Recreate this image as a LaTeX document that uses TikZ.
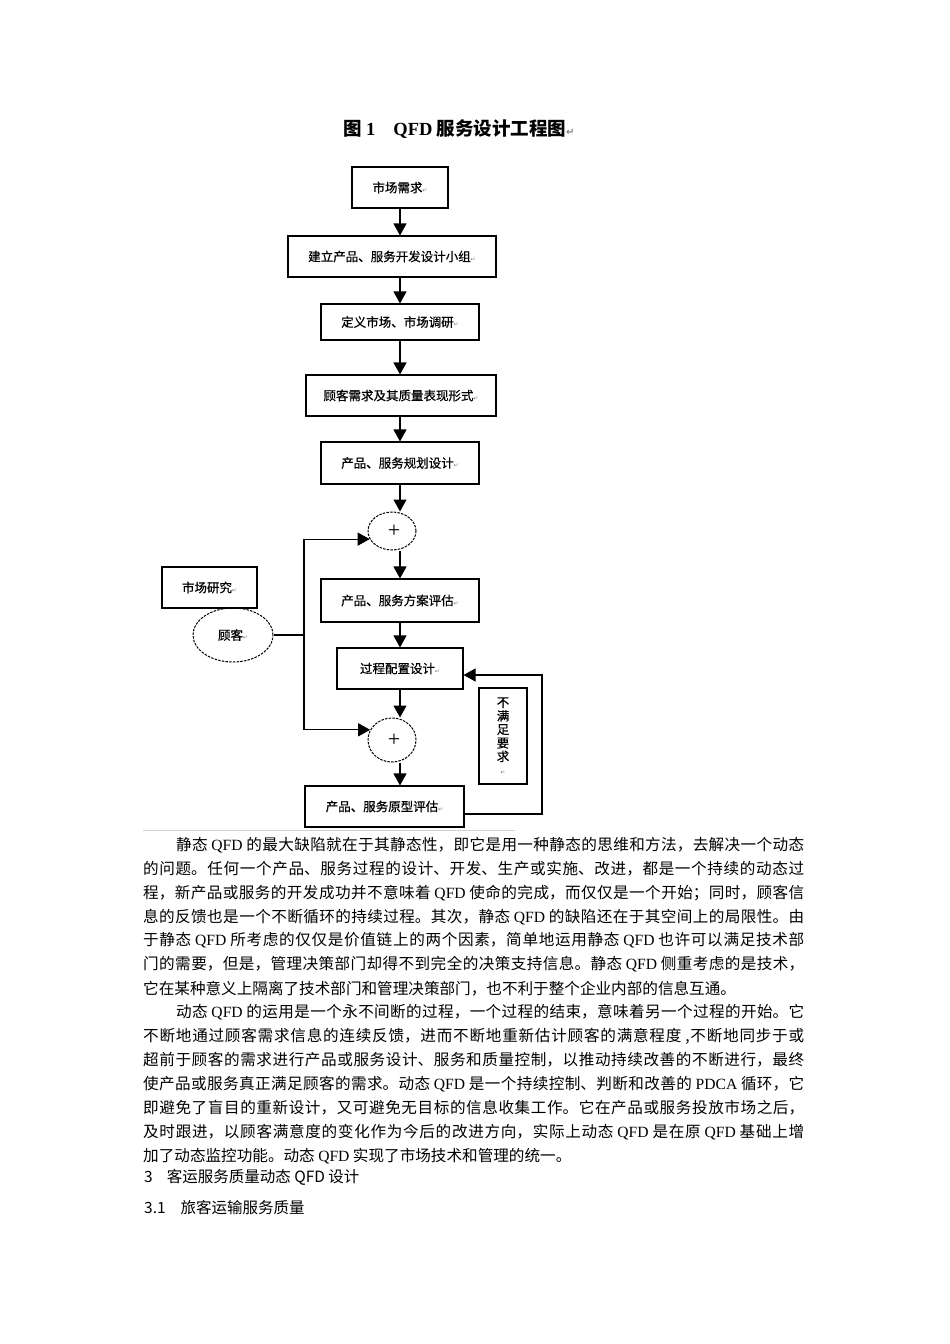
\documentclass[tikz,border=0pt]{standalone}
\usepackage{fontspec}
\usetikzlibrary{arrows.meta,shapes.geometric}
\newfontfamily\cjk{Noto Sans CJK SC}
\newfontfamily\cjkb[FakeBold=0.6]{Noto Sans CJK SC}
\newfontfamily\tm{Liberation Serif}
\newfontfamily\djv{DejaVu Sans}
\XeTeXlinebreaklocale "zh"
\XeTeXlinebreakskip=0pt plus 3pt minus 0.6pt
\tolerance=10000
\pretolerance=-1
\hbadness=10000
\hfuzz=20pt
\newcommand\pmk{{\color{gray}\djv\fontsize{6}{6}\selectfont ↵}}
\newcommand\tmk{{\color{gray}\djv\fontsize{10}{10}\selectfont ↵}}
\newcommand\qfd{{\tm QFD}}
\newcommand\pdca{{\tm PDCA}}
\newcommand\jtext[1]{\noindent\parfillskip=0pt\relax #1\par}
\tikzset{
  box/.style={draw, line width=1.1pt, inner sep=0pt, font=\cjkb\fontsize{12.5}{14}\selectfont},
  circ/.style={ellipse, draw, line width=1pt, dash pattern=on 2.5pt off 1.2pt, inner sep=0pt, font=\cjkb\fontsize{12.5}{14}\selectfont},
  arr/.style={line width=1.1pt, -{Triangle[length=12pt,width=13pt]}},
  ln/.style={line width=1.1pt},
  jline/.style={anchor=west, inner sep=0pt, text width=#1, align=justify, font=\cjk\fontsize{15.6}{18}\selectfont},
  pline/.style={anchor=west, inner sep=0pt, font=\cjk\fontsize{15.6}{18}\selectfont},
  hline/.style={anchor=west, inner sep=0pt, font=\cjk\fontsize{15.5}{18}\selectfont},
  plus/.style={inner sep=0pt, font=\tm\fontsize{22}{22}\selectfont},
}
\begin{document}
\begin{tikzpicture}[x=1pt,y=-1pt]
\useasboundingbox (0,0) rectangle (950,1344);
\fill[white] (0,0) rectangle (950,1344);

% title
\node[inner sep=0pt, font=\cjk\bfseries\fontsize{18.5}{19}\selectfont] (title) at (459,129)
  {图 {\tm\bfseries 1}\hspace{18pt}{\tm\bfseries QFD} 服务设计工程图\tmk};

% flow boxes
\node[box, minimum width=96pt, minimum height=41pt] (b1) at (400,187.5) {市场需求\pmk};
\node[box, minimum width=208pt, minimum height=41pt] (b2) at (392,256.5) {建立产品、服务开发设计小组\pmk};
\node[box, minimum width=158pt, minimum height=36pt] (b3) at (400,322) {定义市场、市场调研\pmk};
\node[box, minimum width=190pt, minimum height=41pt] (b4) at (401,395.5) {顾客需求及其质量表现形式\pmk};
\node[box, minimum width=158pt, minimum height=42pt] (b5) at (400,463) {产品、服务规划设计\pmk};
\node[circ, minimum width=48pt, minimum height=38pt] (c1) at (392,531) {};
\node[plus] (pl1) at (394,531) {+};
\node[box, minimum width=158pt, minimum height=43pt] (b6) at (400,600.5) {产品、服务方案评估\pmk};
\node[box, minimum width=126pt, minimum height=41pt] (b7) at (400,668.5) {过程配置设计\pmk};
\node[circ, minimum width=48pt, minimum height=44pt] (c2) at (392,740) {};
\node[plus] (pl2) at (394,740) {+};
\node[box, minimum width=159pt, minimum height=41pt] (b8) at (384.5,806.5) {产品、服务原型评估\pmk};

% left side
\node[box, minimum width=95pt, minimum height=41pt] (mr) at (209.5,587.5) {市场研究\pmk};
\node[circ, minimum width=80pt, minimum height=54pt] (gk) at (233,635) {顾客\pmk};

% feedback label
\node[box, minimum width=48pt, minimum height=96pt, align=center, font=\cjkb\fontsize{12.5}{13.5}\selectfont] (bm) at (503,736) {不\\满\\足\\要\\求\\\pmk};

% main arrows
\draw[arr] (b1.south) -- (b1.south |- b2.north);
\draw[arr] (b3.north |- b2.south) -- (b3.north);
\draw[arr] (b3.south) -- (b3.south |- b4.north);
\draw[arr] (b5.north |- b4.south) -- (b5.north);
\draw[arr] (b5.south) -- (b5.south |- c1.north);
\draw[arr] (b6.north |- c1.south) -- (b6.north);
\draw[arr] (b6.south) -- (b7.north);
\draw[arr] (b7.south) -- (b7.south |- c2.north);
\draw[arr] (b7.south |- c2.south) -- (b7.south |- b8.north);

% customer input
\coordinate (jm) at (304,635);
\draw[ln] (gk.east) -- (jm);
\draw[ln] (jm |- c1.200) -- (jm |- c2.155);
\draw[arr] (jm |- c1.200) -- (c1.200);
\draw[arr] (jm |- c2.155) -- (c2.155);

% feedback loop
\coordinate (fb) at ([yshift=-7.5pt]b8.east);
\coordinate (fr) at (542,675);
\draw[arr] (fb) -| (fr) -- (fr -| b7.east);

% separator
\draw[gray!35, line width=0.7pt] (143,830) -- (515,830);

% paragraph 1
\node[jline=628pt] (p1) at (176,845) {\jtext{静态 \qfd{} 的最大缺陷就在于其静态性，即它是用一种静态的思维和方法，去解决一个动态}};
\node[jline=661pt] (p2) at (143,868.9) {\jtext{的问题。任何一个产品、服务过程的设计、开发、生产或实施、改进，都是一个持续的动态过}};
\node[jline=661pt] (p3) at (143,892.8) {\jtext{程，新产品或服务的开发成功并不意味着 \qfd{} 使命的完成，而仅仅是一个开始；同时，顾客信}};
\node[jline=661pt] (p4) at (143,916.7) {\jtext{息的反馈也是一个不断循环的持续过程。其次，静态 \qfd{} 的缺陷还在于其空间上的局限性。由}};
\node[jline=661pt] (p5) at (143,940.6) {\jtext{于静态 \qfd{} 所考虑的仅仅是价值链上的两个因素，简单地运用静态 \qfd{} 也许可以满足技术部}};
\node[jline=661pt] (p6) at (143,964.5) {\jtext{门的需要，但是，管理决策部门却得不到完全的决策支持信息。静态 \qfd{} 侧重考虑的是技术，}};
\node[pline] (p7) at (143,988.4) {它在某种意义上隔离了技术部门和管理决策部门，也不利于整个企业内部的信息互通。};

% paragraph 2
\node[jline=628pt] (q1) at (176,1012.3) {\jtext{动态 \qfd{} 的运用是一个永不间断的过程，一个过程的结束，意味着另一个过程的开始。它}};
\node[jline=661pt] (q2) at (143,1036.2) {\jtext{不断地通过顾客需求信息的连续反馈，进而不断地重新估计顾客的满意程度 ,不断地同步于或}};
\node[jline=661pt] (q3) at (143,1060.1) {\jtext{超前于顾客的需求进行产品或服务设计、服务和质量控制，以推动持续改善的不断进行，最终}};
\node[jline=661pt] (q4) at (143,1084) {\jtext{使产品或服务真正满足顾客的需求。动态 \qfd{} 是一个持续控制、判断和改善的 \pdca{} 循环，它}};
\node[jline=661pt] (q5) at (143,1107.9) {\jtext{即避免了盲目的重新设计，又可避免无目标的信息收集工作。它在产品或服务投放市场之后，}};
\node[jline=661pt] (q6) at (143,1131.8) {\jtext{及时跟进，以顾客满意度的变化作为今后的改进方向，实际上动态 \qfd{} 是在原 \qfd{} 基础上增}};
\node[pline] (q7) at (143,1155.7) {加了动态监控功能。动态 \qfd{} 实现了市场技术和管理的统一。};

% headings
\node[hline] (h1) at (144,1177) {3\hspace{14pt}客运服务质量动态 QFD 设计};
\node[hline] (h2) at (144,1208) {3.1\hspace{15pt}旅客运输服务质量};
\end{tikzpicture}
\end{document}
